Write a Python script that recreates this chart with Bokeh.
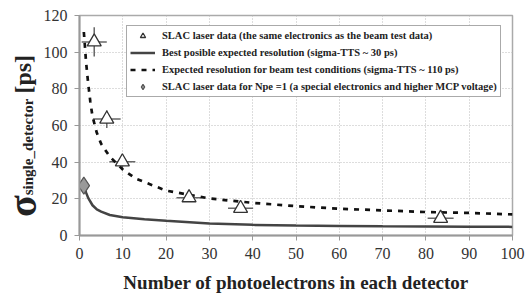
from bokeh.plotting import figure
from bokeh.layouts import row
from bokeh.models import (Range1d, FixedTicker, Legend, LegendItem,
                          ColumnDataSource, Whisker, Div)
from bokeh.embed import file_html
from bokeh.resources import INLINE

# ---- data ----
laser_x = [3.4, 6.3, 9.9, 25.3, 37.2, 83.4]
laser_y = [105.6, 63.5, 40.2, 20.6, 14.8, 9.4]
laser_xerr = [2.9, 3.2, 3.0, 2.9, 2.9, 3.0]
laser_yerr = [8.0, 4.8, 4.0, 2.0, 2.0, 1.5]

best_x = [1.2, 1.5, 2, 3, 4, 5, 7, 10, 15, 20, 30, 40, 50, 60, 70, 80, 90, 100]
best_y = [26.0, 23.5, 20.5, 16.5, 14.2, 13.0, 11.2, 10.0, 8.8, 8.0, 6.5, 5.8, 5.4, 5.2, 5.0, 4.9, 4.8, 4.7]

beam_x = [1.0, 1.2, 1.5, 2, 2.5, 3, 4, 5, 7, 10, 13, 20, 30, 40, 50, 60, 70, 80, 90, 100]
beam_y = [111, 105, 95, 83, 73, 65, 56, 50, 43, 36, 31, 24.5, 20.2, 17.8, 16.0, 14.6, 13.7, 12.8, 12.3, 11.5]

npe1_x = [1.0]
npe1_y = [27.2]

x_ticks = [0, 10, 20, 30, 40, 50, 60, 70, 80, 90, 100]
y_ticks = [0, 20, 40, 60, 80, 100, 120]

legend_labels = [
    "SLAC laser data (the same electronics as the beam test data)",
    "Best posible expected resolution (sigma-TTS ~ 30 ps)",
    "Expected resolution for beam test conditions (sigma-TTS ~ 110 ps)",
    "SLAC laser data for Npe =1 (a special electronics and higher MCP voltage)",
]
x_title = "Number of photoelectrons in each detector"
y_title_parts = ["σ", "single_detector", "[ps]"]

SERIF = "'Liberation Serif', 'Times New Roman', 'DejaVu Serif', serif"
TXT = "#222222"

# ---- narrow column carrying the rotated y-axis title (HTML text) ----
LW, H = 40, 295
title_html = (
    '<div style="position:absolute; left:3px; top:217px; '
    'transform:rotate(-90deg); transform-origin:0 0; white-space:nowrap; '
    "font-family:'Liberation Serif','Times New Roman',serif; font-weight:bold; "
    'color:#222222; font-size:40px; line-height:1;">'
    f'<span style="font-size:40px;">{y_title_parts[0]}</span>'
    f'<span style="font-size:15px; position:relative; top:-3px;">{y_title_parts[1]}</span>'
    f'<span style="font-size:24px; position:relative; top:-5px; margin-left:5px;">{y_title_parts[2]}</span>'
    '</div>'
)
lab = Div(text=title_html, width=LW, height=H, margin=0,
          styles={"position": "relative", "overflow": "visible"})

# ---- main chart ----
p = figure(width=526 - LW, height=H, output_backend="svg", toolbar_location=None,
           x_range=Range1d(0, 100), y_range=Range1d(0, 120),
           min_border_left=77 - LW, min_border_right=14, min_border_top=15,
           min_border_bottom=58)
p.background_fill_color = "white"
p.border_fill_color = "white"
p.outline_line_color = "#aaaaaa"
p.outline_line_width = 1.5

for ax in (p.xaxis[0], p.yaxis[0]):
    ax.axis_line_color = "#999999"
    ax.axis_line_width = 2
    ax.major_tick_line_color = "#999999"
    ax.major_tick_line_width = 1
    ax.major_tick_out = 5
    ax.major_tick_in = 0
    ax.minor_tick_line_color = None
    ax.major_label_text_font = SERIF
    ax.major_label_text_font_size = "16px"
    ax.major_label_text_color = "#333333"
    ax.major_label_standoff = 7

p.xaxis.ticker = FixedTicker(ticks=x_ticks)
p.yaxis.ticker = FixedTicker(ticks=y_ticks)
p.xaxis.axis_label = x_title
p.xaxis.axis_label_text_font = SERIF
p.xaxis.axis_label_text_font_style = "bold"
p.xaxis.axis_label_text_font_size = "19px"
p.xaxis.axis_label_text_color = TXT
p.xaxis.axis_label_standoff = 10

p.xgrid.grid_line_color = "#bbbbbb"
p.ygrid.grid_line_color = "#bbbbbb"
p.xgrid.grid_line_dash = "1 2"
p.ygrid.grid_line_dash = "1 2"
p.xgrid.ticker = FixedTicker(ticks=x_ticks)
p.ygrid.ticker = FixedTicker(ticks=y_ticks)

# curves
r_best = p.line(best_x, best_y, line_color="#444444", line_width=2.5)
r_beam = p.line(beam_x, beam_y, line_color="#111111", line_width=2.7, line_dash="5 6")

# error bars
src = ColumnDataSource(data=dict(
    x=laser_x, y=laser_y,
    xl=[a - b for a, b in zip(laser_x, laser_xerr)],
    xu=[a + b for a, b in zip(laser_x, laser_xerr)],
    yl=[a - b for a, b in zip(laser_y, laser_yerr)],
    yu=[a + b for a, b in zip(laser_y, laser_yerr)],
))
wx = Whisker(source=src, base="y", lower="xl", upper="xu", dimension="width",
             line_color="#666666", line_width=1.5)
wx.upper_head.size = 0
wx.lower_head.size = 0
wy = Whisker(source=src, base="x", lower="yl", upper="yu", dimension="height",
             line_color="#666666", line_width=1.5)
wy.upper_head.size = 0
wy.lower_head.size = 0
p.add_layout(wx)
p.add_layout(wy)

r_laser = p.scatter("x", "y", source=src, marker="triangle", size=14,
                    fill_color="white", line_color="#333333", line_width=1.3)
r_npe1 = p.scatter(npe1_x, npe1_y, marker="diamond", size=17,
                   fill_color="#999999", line_color="#555555", line_width=1.2)

legend = Legend(items=[
    LegendItem(label=legend_labels[0], renderers=[r_laser]),
    LegendItem(label=legend_labels[1], renderers=[r_best]),
    LegendItem(label=legend_labels[2], renderers=[r_beam]),
    LegendItem(label=legend_labels[3], renderers=[r_npe1]),
], location=(47, 138))
legend.label_text_font = SERIF
legend.label_text_font_style = "bold"
legend.label_text_font_size = "10.5px"
legend.label_text_color = TXT
legend.label_height = 13
legend.glyph_height = 13
legend.glyph_width = 25
legend.spacing = 4
legend.padding = 3
legend.margin = 0
legend.label_standoff = 7
legend.border_line_color = "#555555"
legend.border_line_width = 1
legend.background_fill_color = "white"
legend.background_fill_alpha = 1
p.add_layout(legend, "center")

layout = row(lab, p)
open("out.html", "w").write(file_html(layout, INLINE))
